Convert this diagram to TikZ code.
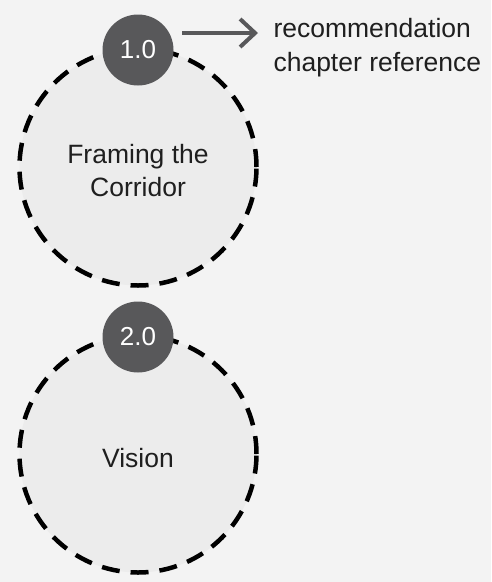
\documentclass[tikz,border=0pt]{standalone}
\usepackage{fontspec}
\setmainfont{Liberation Sans}
\usetikzlibrary{arrows.meta}
\definecolor{bg}{HTML}{F3F3F3}
\definecolor{cfill}{HTML}{ECECEC}
\definecolor{badge}{HTML}{58585A}
\tikzset{
  ring/.style={circle, draw=black, line width=4.5pt, dash pattern=on 18pt off 11pt, fill=cfill, minimum size=237pt, inner sep=0pt},
  badgenode/.style={circle, fill=badge, minimum size=71pt, inner sep=0pt, text=white, font=\fontsize{26}{30}\selectfont},
  lbl/.style={font=\fontsize{26.5}{33}\selectfont, align=center, text=black!88},
  side/.style={font=\fontsize{26.5}{34}\selectfont, align=left, text=black!88, anchor=west},
  conn/.style={draw=badge, line width=4pt, -{Straight Barb[length=15pt, width=28pt, line width=4pt]}}
}
\begin{document}
\begin{tikzpicture}[x=1pt,y=-1pt]
\fill[bg] (0,0) rectangle (491,582);
\useasboundingbox (0,0) rectangle (491,582);
\node[ring] (c1) at (138,167) {};
\node[lbl] (t1) at (138,171) {Framing the\\Corridor};
\node[badgenode] (b1) at (138,50) {1.0};
\node[ring] (c2) at (138,454) {};
\node[lbl] (t2) at (138,458) {Vision};
\node[badgenode] (b2) at (138,337) {2.0};
\node[side] (r) at (270,48) {recommendation\\chapter reference};
\coordinate (a1) at (182,33);
\coordinate (a2) at (258,33);
\draw[conn] (a1) -- (a2);
\end{tikzpicture}
\end{document}
